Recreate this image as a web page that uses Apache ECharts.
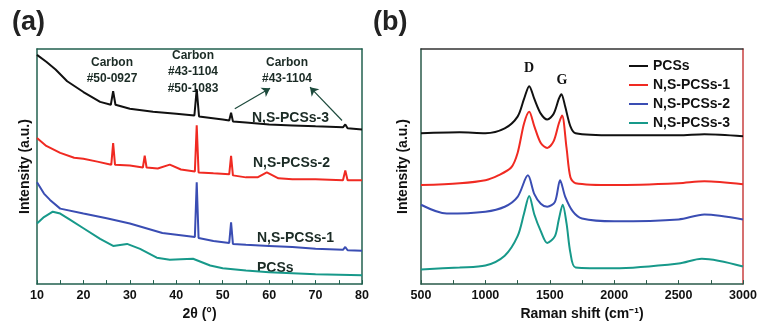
<!DOCTYPE html>
<html>
<head>
<meta charset="utf-8">
<script src="https://cdn.jsdelivr.net/npm/echarts@6/dist/echarts.min.js"></script>
<style>html,body{margin:0;padding:0;background:#fff}#c{width:762px;height:326px}</style>
</head>
<body>
<div id="c"></div>
<script>
// ---- Panel (a): XRD, [2theta, intensity a.u.] ----
const xrdNS3 = [[10,97.5],[12,94.6],[14,91.3],[16.5,86.3],[20,81.7],[23.6,77.5],[25.9,76.3],[26.4,82.1],[26.9,76.3],[30,74.6],[35,73.3],[40,72.5],[43.9,71.7],[44.4,82.9],[44.9,71.3],[50,70],[51.4,69.6],[51.8,72.9],[52.2,69.2],[55,68.75],[60,67.9],[65,67.5],[70,67.1],[75.9,66.7],[76.4,67.9],[76.9,66.25],[80,65.8]];
const xrdNS2 = [[10,62.1],[12,58.75],[15,55.8],[18,53.75],[20,53.3],[23,52.1],[26,50.8],[26.4,60],[26.8,50.8],[30,50.4],[32.8,49.6],[33.2,54.6],[33.6,49.6],[36,49.2],[38.6,50.8],[41,48.75],[44,47.9],[44.4,67.5],[44.8,47.5],[48,47.1],[51.4,46.7],[51.8,54.6],[52.2,46.25],[55,45.4],[57.5,45.4],[59.5,47.5],[62,45],[65,44.6],[70,44.6],[75.9,44.2],[76.4,48.3],[76.9,44.2],[80,44.2]];
const xrdNS1 = [[10,43.3],[11.5,38.5],[12.8,35.8],[15,32.1],[20,30],[25,28],[30,25.8],[37,21.7],[44,20],[44.4,43.3],[44.8,19.6],[48,18.3],[51.4,17.5],[51.8,26.25],[52.2,17.1],[55,16.7],[60,16.25],[65,15.8],[70,15],[75.9,14.6],[76.4,15.8],[76.9,14.4],[80,14.2]];
const xrdPCS = [[10,25.8],[11.5,28.5],[13.4,30.8],[15,30],[17,27.5],[20,23.75],[23.6,19.2],[26.4,16.25],[29.4,17.1],[32.2,15],[35.8,11.25],[38.6,10.4],[41,10.6],[43.6,10.8],[47.3,7.9],[50,6.7],[55,5.8],[60,5],[70,4.2],[80,3.75]];
// ---- Panel (b): Raman, [shift cm-1, intensity a.u.] ----
const ramPCS = [[500,64.2],[800,64.6],[1000,64.2],[1150,66.25],[1250,71.25],[1300,78.75],[1340,84.2],[1380,78.75],[1430,72.5],[1480,70],[1530,72.5],[1570,78.75],[1590,80.8],[1620,75.4],[1660,67.1],[1700,64.2],[2000,63.3],[2500,63.3],[2700,63.75],[3000,62.9]];
const ramNS1 = [[500,42.1],[800,42.9],[1000,44.2],[1100,46.25],[1200,49.6],[1250,55.8],[1300,68.3],[1340,73.3],[1380,67.1],[1430,60],[1480,57.9],[1530,60.8],[1570,68.3],[1595,71.7],[1630,57.9],[1660,45.4],[1700,42.9],[2000,42.1],[2500,42.9],[2700,43.75],[3000,42.5]];
const ramNS2 = [[500,33.75],[700,30],[1000,30.8],[1150,32.9],[1250,37.1],[1330,46.25],[1380,38.3],[1430,34.2],[1480,32.9],[1540,35],[1580,44.2],[1620,37.1],[1680,30.8],[1750,27.9],[2000,26.7],[2500,27.5],[2700,29.6],[3000,27.5]];
const ramNS3 = [[500,6.25],[800,7.1],[1000,7.9],[1150,12.1],[1250,20.4],[1300,30],[1340,37.5],[1380,29.6],[1430,22.5],[1480,17.5],[1540,20.4],[1570,27.5],[1600,33.75],[1630,25.8],[1660,13.3],[1700,7.1],[2000,6.7],[2500,8.75],[2680,10.8],[3000,7.5]];
const legendNames = ['PCSs','N,S-PCSs-1','N,S-PCSs-2','N,S-PCSs-3'];
const xrdTicks = {min:10, max:80, interval:10};
const ramTicks = {min:500, max:3000, interval:500};

const C = {black:'#111111', red:'#f02a22', blue:'#3a4db3', teal:'#17998a'};
const frameA = '#22604f', frameB = '#2a5a4a';
const lblFont = {color:'#111', fontSize:12.5, fontWeight:'bold', fontFamily:'Liberation Sans, Arial, sans-serif'};
const nameFont = {color:'#111', fontSize:14, fontWeight:'bold', fontFamily:'Liberation Sans, Arial, sans-serif'};
const F = 'bold 14px "Liberation Sans", Arial, sans-serif';
const F12 = 'bold 12px "Liberation Sans", Arial, sans-serif';
const annoColor = '#1b2b25';

function line(name, data, color, xi, smooth){
  return {name, type:'line', data, xAxisIndex:xi, yAxisIndex:xi, showSymbol:false, symbol:'none',
    smooth: smooth, lineStyle:{color, width:2}, itemStyle:{color}, silent:true, animation:false};
}
function frameAxis(pos, color, gi){
  return {type:'value', gridIndex:gi, position:pos, min:0, max:1, show:true,
    axisLine:{show:true, onZero:false, lineStyle:{color, width:1.5}},
    axisTick:{show:false}, axisLabel:{show:false}, splitLine:{show:false}};
}

const chart = echarts.init(document.getElementById('c'), null, {renderer:'canvas'});
const seriesA3 = line('XRD N,S-PCSs-3', xrdNS3, C.black, 0, false);
seriesA3.markLine = {silent:true, symbol:['none','arrow'], symbolSize:8, animation:false, label:{show:false},
  lineStyle:{color:'#1d4a3c', width:1.2, type:'solid'},
  data:[[{coord:[52.6,74.6]},{coord:[60.2,83.3]}],[{coord:[75.7,69.6]},{coord:[68.8,83.75]}]]};

chart.setOption({
  animation:false,
  grid:[{left:37, right:400, top:49, bottom:37}, {left:421, right:19, top:49, bottom:37}],
  xAxis:[
    {type:'value', gridIndex:0, min:xrdTicks.min, max:xrdTicks.max, interval:xrdTicks.interval,
     name:'2θ (°)', nameLocation:'middle', nameGap:15, nameTextStyle:nameFont,
     axisLine:{show:true, onZero:false, lineStyle:{color:frameA, width:1.5}},
     axisTick:{show:true, inside:true, length:4, lineStyle:{color:frameA}},
     minorTick:{show:true, splitNumber:2, length:4, lineStyle:{color:frameA}},
     axisLabel:{...lblFont, margin:5, formatter:v=>String(v)}, splitLine:{show:false}},
    {type:'value', gridIndex:1, min:ramTicks.min, max:ramTicks.max, interval:ramTicks.interval,
     name:'Raman shift (cm⁻¹)', nameLocation:'middle', nameGap:20, nameTextStyle:nameFont,
     axisLine:{show:true, onZero:false, lineStyle:{color:frameB, width:1.5}},
     axisTick:{show:true, inside:true, length:4, lineStyle:{color:frameB}},
     minorTick:{show:true, splitNumber:2, length:4, lineStyle:{color:frameB}},
     axisLabel:{...lblFont, margin:5, formatter:v=>String(v)}, splitLine:{show:false}},
    frameAxis('top', frameA, 0),
    frameAxis('top', '#333333', 1)
  ],
  yAxis:[
    {type:'value', gridIndex:0, min:0, max:100, name:'Intensity (a.u.)', nameLocation:'middle', nameGap:5, nameRotate:90,
     nameTextStyle:nameFont, axisLine:{show:true, onZero:false, lineStyle:{color:frameA, width:1.5}},
     axisTick:{show:false}, axisLabel:{show:false}, splitLine:{show:false}},
    {type:'value', gridIndex:1, min:0, max:100, name:'Intensity (a.u.)', nameLocation:'middle', nameGap:11, nameRotate:90,
     nameTextStyle:nameFont, axisLine:{show:true, onZero:false, lineStyle:{color:frameB, width:1.5}},
     axisTick:{show:false}, axisLabel:{show:false}, splitLine:{show:false}},
    frameAxis('right', frameA, 0),
    frameAxis('right', '#c84040', 1)
  ],
  legend:{data:legendNames, orient:'vertical', left:624, top:54, itemWidth:19, itemHeight:2, itemGap:5, icon:'rect',
    textStyle:{...nameFont, padding:[0,0,0,0]}, selectedMode:false},
  series:[
    line('PCSs', ramPCS, C.black, 1, 0.3),
    line('N,S-PCSs-1', ramNS1, C.red, 1, 0.3),
    line('N,S-PCSs-2', ramNS2, C.blue, 1, 0.3),
    line('N,S-PCSs-3', ramNS3, C.teal, 1, 0.3),
    seriesA3,
    line('XRD N,S-PCSs-2', xrdNS2, C.red, 0, false),
    line('XRD N,S-PCSs-1', xrdNS1, C.blue, 0, false),
    line('XRD PCSs', xrdPCS, C.teal, 0, false)
  ],
  graphic:[
    {type:'text', x:12, y:23, style:{text:'(a)', font:'bold 27px "Liberation Sans", Arial, sans-serif', fill:'#222', textVerticalAlign:'middle'}},
    {type:'text', x:373, y:23, style:{text:'(b)', font:'bold 27px "Liberation Sans", Arial, sans-serif', fill:'#222', textVerticalAlign:'middle'}},
    {type:'text', x:112, y:71, style:{text:'Carbon\n#50-0927', font:F12, fill:annoColor, textAlign:'center', textVerticalAlign:'middle', lineHeight:16}},
    {type:'text', x:193, y:72, style:{text:'Carbon\n#43-1104\n#50-1083', font:F12, fill:annoColor, textAlign:'center', textVerticalAlign:'middle', lineHeight:16.5}},
    {type:'text', x:287, y:71, style:{text:'Carbon\n#43-1104', font:F12, fill:annoColor, textAlign:'center', textVerticalAlign:'middle', lineHeight:16}},
    {type:'text', x:252, y:118, style:{text:'N,S-PCSs-3', font:F, fill:annoColor, textVerticalAlign:'middle'}},
    {type:'text', x:253, y:163, style:{text:'N,S-PCSs-2', font:F, fill:annoColor, textVerticalAlign:'middle'}},
    {type:'text', x:257, y:238, style:{text:'N,S-PCSs-1', font:F, fill:annoColor, textVerticalAlign:'middle'}},
    {type:'text', x:257, y:268, style:{text:'PCSs', font:F, fill:annoColor, textVerticalAlign:'middle'}},
    {type:'text', x:529, y:68, style:{text:'D', font:'bold 14px "Liberation Serif", "Times New Roman", serif', fill:'#111', textAlign:'center', textVerticalAlign:'middle'}},
    {type:'text', x:562, y:80, style:{text:'G', font:'bold 14px "Liberation Serif", "Times New Roman", serif', fill:'#111', textAlign:'center', textVerticalAlign:'middle'}}
  ]
});
</script>
</body>
</html>
